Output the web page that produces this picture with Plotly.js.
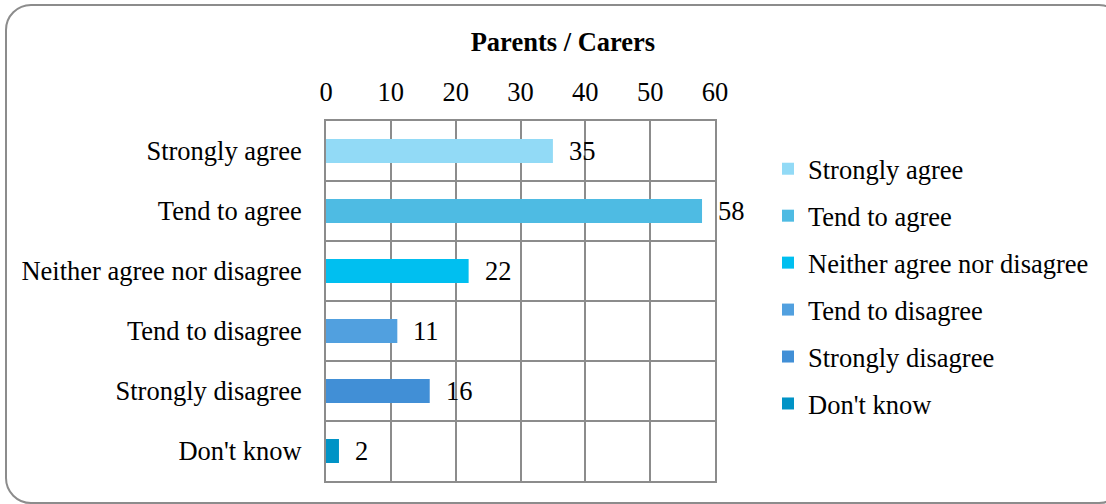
<!DOCTYPE html>
<html>
<head>
<meta charset="utf-8">
<script src="https://cdn.plot.ly/plotly-3.0.1.min.js"></script>
<style>
html,body{margin:0;padding:0;width:1106px;height:504px;overflow:hidden;background:#fff;}
#frame{position:absolute;left:5px;top:4px;width:1116px;height:496px;border:2.5px solid #8c8c8c;border-radius:26px;pointer-events:none;z-index:2;}
#chart{position:absolute;left:0;top:0;width:1106px;height:504px;}
</style>
</head>
<body>
<div id="chart"></div>
<div id="frame"></div>
<script>
const categories = ["Strongly agree","Tend to agree","Neither agree nor disagree","Tend to disagree","Strongly disagree","Don't know"];
const values = [35, 58, 22, 11, 16, 2];
const colors = ["#92DAF6","#4EBBE3","#00BFF0","#51A0DF","#418FD6","#0093C6"];
const chartTitle = "Parents / Carers";
const xTicks = [0,10,20,30,40,50,60];

const font = "Liberation Serif, Times New Roman, serif";
const fs = 26.5;
const traces = categories.map((c,i)=>({
  type:'bar', orientation:'h', name:c, legendgroup:c,
  y:[c], x:[values[i]], width:0.4,
  marker:{color:colors[i]}, hoverinfo:'x+y'
}));
const annotations = categories.map((c,i)=>({
  x: values[i], y: c, xref:'x', yref:'y', text: String(values[i]),
  showarrow:false, xanchor:'left', yanchor:'middle', xshift:14,
  font:{family:font,size:fs,color:'#000'}
}));
const layout = {
  width:1106, height:504,
  margin:{l:326,r:391,t:121,b:23,pad:0},
  paper_bgcolor:'#fff', plot_bgcolor:'#fff',
  font:{family:font,size:fs,color:'#000'},
  title:{text:'<b>'+chartTitle+'</b>', x:0.609, xref:'paper', xanchor:'center', y:1-42/504, yref:'container', yanchor:'middle', font:{family:font,size:fs,color:'#000'}},
  barmode:'overlay',
  xaxis:{side:'top', range:[0,60], tickvals:xTicks, ticktext:xTicks.map(String), showgrid:true, gridcolor:'#8c8c8c', gridwidth:2, zeroline:false, showline:true, linecolor:'#8c8c8c', linewidth:2, mirror:true, ticks:'', ticklabelstandoff:7, tickfont:{family:font,size:fs,color:'#000'}, fixedrange:true},
  yaxis:{type:'category', categoryorder:'array', categoryarray:categories, autorange:'reversed', showgrid:false, showline:true, linecolor:'#8c8c8c', linewidth:2, mirror:true, ticks:'', ticklabelstandoff:17, tickfont:{family:font,size:fs,color:'#000'}, fixedrange:true},
  shapes: categories.slice(1).map((c,i)=>({type:'line', xref:'paper', x0:0, x1:1, yref:'y', y0:i+0.5, y1:i+0.5, line:{color:'#8c8c8c', width:2}, layer:'below'})),
  legend:{x:(768-326)/389, xanchor:'left', y:1-(145-121)/360, yanchor:'top', tracegroupgap:9.5, font:{family:font,size:fs,color:'#000'}, bgcolor:'rgba(0,0,0,0)'},
  annotations: annotations,
  showlegend:true
};
Plotly.newPlot('chart', traces, layout, {displayModeBar:false, staticPlot:true});
</script>
</body>
</html>
